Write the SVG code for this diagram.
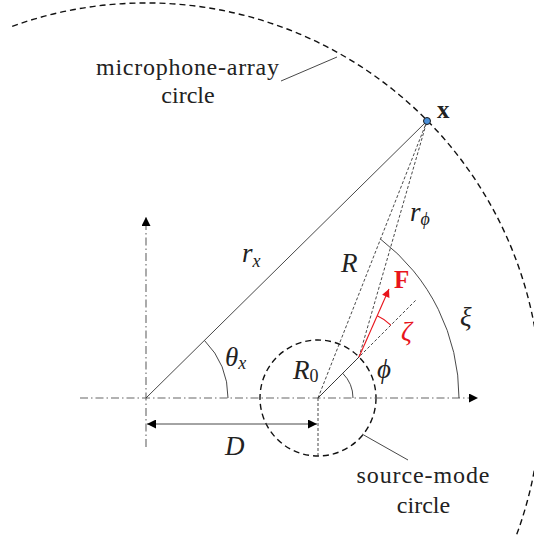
<svg xmlns="http://www.w3.org/2000/svg" width="534" height="536" viewBox="0 0 534 536">
<defs>
<style>
.txt{font-family:"Liberation Serif","Times New Roman",serif;font-size:24px;fill:#222}
.mi{font-family:"Liberation Serif","Times New Roman",serif;font-style:italic;font-size:27px;fill:#222}
.sub{font-size:18px}
.bold{font-family:"Liberation Serif","Times New Roman",serif;font-weight:bold;font-size:25px}
.axis{fill:none;stroke:#666;stroke-width:1.1;stroke-dasharray:8 3 1.5 3}
.thin{fill:none;stroke:#333;stroke-width:0.9}
.dash{fill:none;stroke:#333;stroke-width:0.9;stroke-dasharray:3 2}
.big{fill:none;stroke:#111;stroke-width:1.4;stroke-dasharray:6 4}
.red{fill:none;stroke:#e8141b;stroke-width:1.1}
</style>
<marker id="ah" viewBox="0 0 10 10" refX="10" refY="5" markerWidth="11" markerHeight="9" markerUnits="userSpaceOnUse" orient="auto-start-reverse">
<path d="M0,0 L10,5 L0,10 z" fill="#000"/>
</marker>
<marker id="ahr" viewBox="0 0 10 10" refX="10" refY="5" markerWidth="10" markerHeight="8" markerUnits="userSpaceOnUse" orient="auto">
<path d="M0,0 L10,5 L0,10 z" fill="#e8141b"/>
</marker>
</defs>
<rect width="534" height="536" fill="#fff"/>

<g id="mic-circle">
<path class="big" d="M 12.2 26.3 A 395 395 0 0 1 516 536.3"/>
<text class="txt" x="187.5" y="75" text-anchor="middle" textLength="183">microphone-array</text>
<text class="txt" x="188" y="103" text-anchor="middle">circle</text>
</g>

<g id="source-circle">
<circle class="big" cx="318" cy="398" r="58"/>
<text class="txt" x="423" y="483" text-anchor="middle" textLength="133">source-mode</text>
<text class="txt" x="423.5" y="513" text-anchor="middle">circle</text>
</g>

<g id="connectors">
<line class="axis" x1="80" y1="398" x2="478" y2="398" marker-end="url(#ah)"/>
<line class="axis" x1="146" y1="447" x2="146" y2="217" marker-end="url(#ah)"/>
<line class="thin" x1="281" y1="81" x2="337" y2="57"/>
<line class="thin" x1="362" y1="434" x2="408" y2="460"/>
<line class="thin" x1="146" y1="398" x2="427" y2="121"/>
<line class="dash" x1="318" y1="398" x2="427" y2="121"/>
<line class="dash" x1="359" y1="357" x2="427" y2="121"/>
<line class="thin" x1="318" y1="398" x2="359" y2="357"/>
<line class="dash" x1="318" y1="398" x2="415.6" y2="300.4"/>
<line class="dash" x1="318" y1="398" x2="318" y2="456"/>
<line class="thin" x1="147" y1="424" x2="317" y2="424" stroke="#111" marker-start="url(#ah)" marker-end="url(#ah)"/>
<path class="thin" d="M 228 398 A 82 82 0 0 0 204.5 340.5"/>
<path class="thin" d="M 353 398 A 35 35 0 0 0 342.7 373.3"/>
<path class="thin" d="M 380.5 239.1 A 200 200 0 0 1 459 398"/>
<line class="red" x1="359" y1="357" x2="389" y2="289" marker-end="url(#ahr)"/>
<path class="red" d="M 377.2 315.8 A 45 45 0 0 1 390.8 325.2"/>
</g>

<g id="point-x">
<circle cx="427" cy="121" r="3.5" fill="#4a8fd8" stroke="#1a1a1a" stroke-width="1"/>
<text class="bold" x="437" y="118" fill="#222">x</text>
</g>

<g id="labels">
<text class="mi" x="242" y="262">r<tspan class="sub" dy="5">x</tspan></text>
<text class="mi" x="225" y="366">θ<tspan class="sub" dy="3">x</tspan></text>
<text class="mi" x="341" y="272">R</text>
<text class="mi" x="293" y="379">R<tspan class="sub" font-style="normal" dy="3">0</tspan></text>
<text class="mi" x="377" y="378">ϕ</text>
<text class="bold" x="394" y="288" fill="#e8141b">F</text>
<text class="mi" x="401" y="340" style="fill:#e8141b">ζ</text>
<text class="mi" x="460" y="326">ξ</text>
<text class="mi" x="410" y="221">r<tspan class="sub" dy="4">ϕ</tspan></text>
<text class="mi" x="225" y="455">D</text>
</g>
</svg>
